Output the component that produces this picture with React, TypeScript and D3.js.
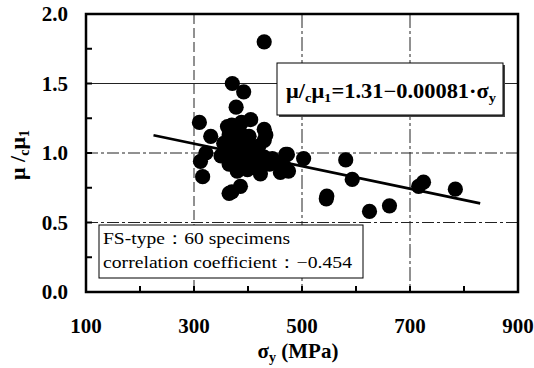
import React from "react";
import * as d3 from "d3";

const sigmaY: number[] = [430, 371, 392, 378, 405, 310, 362, 430, 331, 430, 470, 503, 581, 593, 545, 546, 625, 662, 725, 716, 784, 316, 365, 386, 322, 312, 368, 380, 399, 423, 430, 355, 374, 408, 417, 460, 466, 473, 475, 360, 370, 385, 395, 378, 390, 400, 412, 440, 445, 350, 365, 388, 402, 420, 365, 433, 455, 380, 370, 410];
const ratio: number[] = [1.80, 1.50, 1.44, 1.33, 1.24, 1.22, 1.19, 1.17, 1.12, 1.09, 0.99, 0.96, 0.95, 0.81, 0.67, 0.69, 0.58, 0.62, 0.79, 0.76, 0.74, 0.83, 0.71, 0.76, 1.00, 0.94, 1.00, 0.93, 0.88, 0.85, 0.97, 1.07, 1.12, 1.02, 0.93, 0.86, 0.91, 0.99, 0.87, 1.05, 1.20, 1.15, 1.08, 1.03, 0.97, 1.00, 0.95, 0.92, 0.96, 0.98, 0.92, 1.22, 1.12, 1.05, 1.13, 1.13, 0.92, 0.87, 0.72, 0.90];
const xTicks: number[] = [100, 300, 500, 700, 900];
const yTicks: number[] = [0, 0.5, 1.0, 1.5, 2.0];
const xMinorTicks: number[] = [200, 300, 400, 500, 600, 700, 800];
const yMinorTicks: number[] = [0.25, 0.5, 0.75, 1.0, 1.25, 1.5, 1.75];
const xGrid: number[] = [300, 500, 700];
const yGrid: number[] = [0.5, 1.0, 1.5];
const fitRange: number[] = [225, 830];
const fitIntercept = 1.31;
const fitSlope = -0.00081;

export default function App() {
  const W = 534, H = 368;
  const L = 86, R = 518, T = 14, B = 292;
  const x = d3.scaleLinear().domain([100, 900]).range([L, R]);
  const y = d3.scaleLinear().domain([0, 2]).range([B, T]);
  const serif = "Liberation Serif, Times New Roman, serif";
  const fitLine = d3.line<number>().x((s) => x(s)).y((s) => y(fitIntercept + fitSlope * s));
  const pts = sigmaY.map((s, i) => [s, ratio[i]]);
  return (
    <svg width={W} height={H} style={{ position: "absolute", left: 0, top: 0, background: "#fff", fontFamily: serif }}>
      <rect x={0} y={0} width={W} height={H} fill="#fff" />
      {/* grid */}
      {yGrid.map((v) => (
        <line key={"gy" + v} x1={L} x2={R} y1={y(v)} y2={y(v)} stroke="#222" strokeWidth={1}
          strokeDasharray={v === 1.5 ? undefined : "12,3,3,3"} />
      ))}
      {xGrid.map((v) => (
        <line key={"gx" + v} x1={x(v)} x2={x(v)} y1={T} y2={B} stroke="#222" strokeWidth={1}
          strokeDasharray={v === 300 ? "10,4" : "14,3,3,3"} />
      ))}
      {/* ticks */}
      {xMinorTicks.map((v) => (
        <line key={"tx" + v} x1={x(v)} x2={x(v)} y1={B} y2={B - 6} stroke="#000" strokeWidth={2} />
      ))}
      {yMinorTicks.map((v) => (
        <line key={"ty" + v} x1={L} x2={L + 6} y1={y(v)} y2={y(v)} stroke="#000" strokeWidth={2} />
      ))}
      {/* fit line */}
      <path d={fitLine(fitRange) || ""} stroke="#000" strokeWidth={2.6} fill="none" />
      {/* points */}
      {pts.map((p, i) => (
        <circle key={"p" + i} cx={x(p[0])} cy={y(p[1])} r={7.6} fill="#000" />
      ))}
      {/* equation box */}
      <rect x={279} y={65} width={226} height={52} fill="#444" />
      <rect x={277} y={63} width={226} height={52} fill="#fff" stroke="#000" strokeWidth={1} />
      <text x={286} y={98} fontSize={20} fontWeight="bold" fill="#000" textLength={210} lengthAdjust="spacingAndGlyphs">
        <tspan>μ/</tspan>
        <tspan fontSize={13} dy={4}>c</tspan>
        <tspan dy={-4}>μ</tspan>
        <tspan fontSize={13} dy={4}>1</tspan>
        <tspan dy={-4}>=1.31−0.00081·σ</tspan>
        <tspan fontSize={13} dy={4}>y</tspan>
      </text>
      {/* info box */}
      <rect x={99} y={225} width={264} height={53} fill="#fff" stroke="#000" strokeWidth={1} />
      <text x={103} y={244} fontSize={17} fill="#000" textLength={187} lengthAdjust="spacingAndGlyphs">FS-type：60 specimens</text>
      <text x={103} y={268} fontSize={17} fill="#000" textLength={249} lengthAdjust="spacingAndGlyphs">correlation coefficient：−0.454</text>
      {/* frame */}
      <rect x={L} y={T} width={R - L} height={B - T} fill="none" stroke="#000" strokeWidth={2.5} />
      {/* tick labels */}
      {xTicks.map((v) => (
        <text key={"lx" + v} x={x(v)} y={333} textAnchor="middle" fontSize={21} fontWeight="bold" fill="#000">{v}</text>
      ))}
      {yTicks.map((v) => (
        <text key={"ly" + v} x={68} y={y(v) + 7} textAnchor="end" fontSize={21} fontWeight="bold" fill="#000">{v.toFixed(1)}</text>
      ))}
      {/* axis titles */}
      <text x={298} y={358} textAnchor="middle" fontSize={21} fontWeight="bold" fill="#000">
        <tspan>σ</tspan>
        <tspan fontSize={14} dy={4}>y</tspan>
        <tspan dy={-4}> (MPa)</tspan>
      </text>
      <text transform={`translate(25,155) rotate(-90)`} textAnchor="middle" fontSize={22} fontWeight="bold" fill="#000">
        <tspan>μ /</tspan>
        <tspan fontSize={14} dy={4}>c</tspan>
        <tspan dy={-4}>μ</tspan>
        <tspan fontSize={14} dy={4}>1</tspan>
      </text>
    </svg>
  );
}
